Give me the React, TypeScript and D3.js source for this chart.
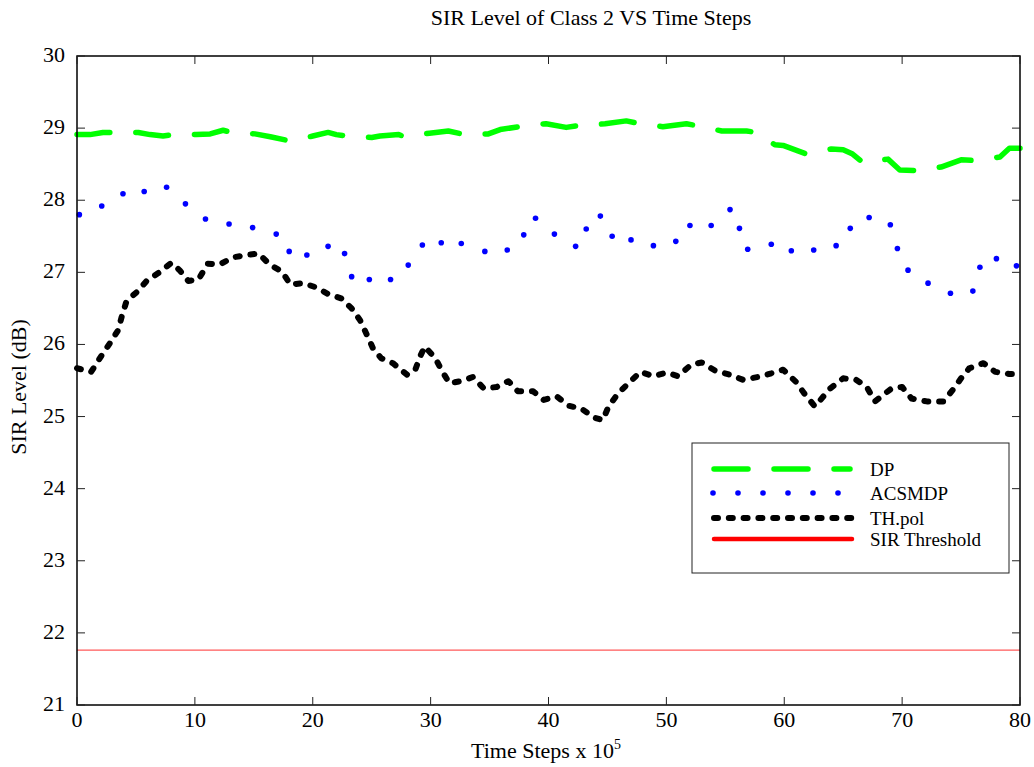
import { useEffect, useRef } from "react";
import * as d3 from "d3";

// DP (green, long dashes)
const dpX = [0, 1.1, 2.2, 3.2, 5.2, 6.2, 7.3, 8.2, 10.1, 11.3, 12.4, 13.1, 15.1, 16.4, 18.1, 20.0, 21.3, 22.0, 22.9, 25.0, 25.7, 27.3, 27.8, 29.9, 31.5, 32.9, 34.9, 35.9, 37.9, 39.8, 41.5, 42.7, 44.8, 46.6, 47.8, 49.7, 51.7, 52.7, 54.7, 56.8, 57.6, 59.2, 59.9, 61.9, 64.0, 65.0, 65.8, 66.7, 68.8, 69.8, 71.4, 73.3, 75.0, 76.3, 78.3, 79.1, 80];
const dpY = [28.91, 28.91, 28.94, 28.94, 28.94, 28.91, 28.89, 28.91, 28.91, 28.92, 28.97, 28.94, 28.92, 28.88, 28.82, 28.89, 28.94, 28.91, 28.89, 28.87, 28.89, 28.91, 28.88, 28.93, 28.96, 28.91, 28.92, 28.98, 29.03, 29.06, 29.01, 29.04, 29.06, 29.1, 29.06, 29.02, 29.06, 29.03, 28.96, 28.96, 28.94, 28.77, 28.76, 28.64, 28.71, 28.7, 28.64, 28.52, 28.57, 28.42, 28.41, 28.46, 28.56, 28.55, 28.6, 28.72, 28.72];

// ACSMDP (blue dots)
const acsX = [0.2, 2.1, 3.9, 5.7, 7.6, 9.2, 10.9, 12.9, 14.9, 16.9, 18.0, 19.5, 21.3, 22.7, 23.3, 24.8, 26.6, 28.1, 29.3, 30.9, 32.6, 34.6, 36.5, 37.9, 38.9, 40.5, 42.3, 43.2, 44.4, 45.4, 47.0, 48.9, 50.8, 52.0, 53.8, 55.4, 56.2, 56.9, 58.9, 60.6, 62.5, 64.4, 65.6, 67.2, 69.0, 69.6, 70.5, 72.2, 74.1, 76.0, 76.6, 78.0, 79.7];
const acsY = [27.8, 27.92, 28.09, 28.12, 28.18, 27.95, 27.74, 27.67, 27.62, 27.53, 27.29, 27.24, 27.36, 27.26, 26.94, 26.9, 26.9, 27.1, 27.38, 27.41, 27.4, 27.29, 27.31, 27.52, 27.75, 27.53, 27.36, 27.6, 27.78, 27.5, 27.45, 27.37, 27.43, 27.65, 27.65, 27.87, 27.61, 27.32, 27.39, 27.3, 27.31, 27.37, 27.61, 27.76, 27.66, 27.33, 27.03, 26.85, 26.71, 26.74, 27.07, 27.19, 27.09];

// TH.pol (black short dashes)
const thX = [0, 1.2, 2.1, 2.8, 3.5, 3.8, 4.2, 5.1, 5.9, 6.9, 8.0, 8.7, 9.45, 10.3, 11.1, 12.1, 13.3, 14.4, 15.4, 16.4, 17.4, 18.1, 19.2, 20.3, 21.3, 22.4, 23.3, 24.0, 24.6, 25.1, 25.8, 26.8, 28.0, 28.7, 29.1, 29.5, 30.4, 30.9, 31.6, 32.8, 33.6, 34.5, 35.6, 36.6, 37.4, 38.7, 39.6, 40.7, 41.7, 42.8, 43.8, 44.6, 45.1, 45.9, 46.9, 47.8, 48.9, 50.0, 51.0, 52.1, 53.0, 54.1, 55.4, 56.5, 57.8, 58.9, 59.9, 61.0, 61.7, 62.6, 63.9, 65.0, 66.1, 67.0, 67.7, 69.1, 70.0, 70.8, 72.1, 73.5, 74.3, 75.0, 75.7, 76.9, 77.9, 79.1, 80];
const thY = [25.67, 25.62, 25.85, 26.02, 26.2, 26.39, 26.6, 26.73, 26.88, 26.99, 27.13, 27.03, 26.88, 26.9, 27.12, 27.11, 27.21, 27.24, 27.26, 27.1, 27.01, 26.83, 26.85, 26.79, 26.7, 26.64, 26.5, 26.34, 26.13, 25.95, 25.81, 25.74, 25.58, 25.65, 25.83, 25.97, 25.81, 25.65, 25.46, 25.5, 25.55, 25.39, 25.41, 25.49, 25.35, 25.35, 25.23, 25.28, 25.15, 25.11, 24.99, 24.95, 25.14, 25.32, 25.48, 25.62, 25.56, 25.61, 25.56, 25.72, 25.75, 25.64, 25.58, 25.51, 25.55, 25.6, 25.65, 25.48, 25.32, 25.14, 25.39, 25.53, 25.51, 25.41, 25.21, 25.39, 25.41, 25.25, 25.21, 25.21, 25.37, 25.53, 25.67, 25.74, 25.62, 25.59, 25.59];

const sirThreshold = 21.76;

const xTicks = [0, 10, 20, 30, 40, 50, 60, 70, 80];
const yTicks = [21, 22, 23, 24, 25, 26, 27, 28, 29, 30];
const legendLabels = ["DP", "ACSMDP", "TH.pol", "SIR Threshold"];

const FONT = "'Liberation Serif', 'Times New Roman', serif";

const App = () => {
  const svgRef = useRef<SVGSVGElement | null>(null);

  useEffect(() => {
    if (!svgRef.current) return;
    const svg = d3.select(svgRef.current);
    svg.selectAll("*").remove();

    const margin = { top: 56, right: 14, bottom: 62, left: 77 };
    const width = 1034;
    const height = 767;
    const innerWidth = width - margin.left - margin.right;
    const innerHeight = height - margin.top - margin.bottom;

    const x = d3.scaleLinear().domain([0, 80]).range([0, innerWidth]);
    const y = d3.scaleLinear().domain([21, 30]).range([innerHeight, 0]);

    const g = svg
      .append("g")
      .attr("transform", `translate(${margin.left},${margin.top})`);

    const line = d3
      .line<[number, number]>()
      .x((d) => x(d[0]))
      .y((d) => y(d[1]));

    // threshold
    g.append("line")
      .attr("x1", 0)
      .attr("x2", innerWidth)
      .attr("y1", y(sirThreshold))
      .attr("y2", y(sirThreshold))
      .attr("stroke", "#ff5a5a")
      .attr("stroke-width", 1.3);

    // DP
    g.append("path")
      .datum(dpX.map((v, i) => [v, dpY[i]] as [number, number]))
      .attr("d", line)
      .attr("fill", "none")
      .attr("stroke", "#00ff00")
      .attr("stroke-width", 5.5)
      .attr("stroke-linecap", "round")
      .attr("stroke-linejoin", "round")
      .attr("stroke-dasharray", "33 26");

    // TH.pol
    g.append("path")
      .datum(thX.map((v, i) => [v, thY[i]] as [number, number]))
      .attr("d", line)
      .attr("fill", "none")
      .attr("stroke", "#000")
      .attr("stroke-width", 6)
      .attr("stroke-linecap", "round")
      .attr("stroke-linejoin", "round")
      .attr("stroke-dasharray", "4 10.8");

    // ACSMDP
    g.append("g")
      .selectAll("circle")
      .data(acsX.map((v, i) => [v, acsY[i]]))
      .enter()
      .append("circle")
      .attr("cx", (d) => x(d[0]))
      .attr("cy", (d) => y(d[1]))
      .attr("r", 2.8)
      .attr("fill", "#0000ff");

    // frame + ticks
    g.append("rect")
      .attr("width", innerWidth)
      .attr("height", innerHeight)
      .attr("fill", "none")
      .attr("stroke", "#000")
      .attr("stroke-width", 1.5);

    const tickLen = 8;
    xTicks.forEach((t) => {
      g.append("line")
        .attr("x1", x(t)).attr("x2", x(t))
        .attr("y1", innerHeight).attr("y2", innerHeight - tickLen)
        .attr("stroke", "#222").attr("stroke-width", 1);
      g.append("line")
        .attr("x1", x(t)).attr("x2", x(t))
        .attr("y1", 0).attr("y2", tickLen)
        .attr("stroke", "#222").attr("stroke-width", 1);
      g.append("text")
        .attr("x", x(t))
        .attr("y", innerHeight + 22)
        .attr("text-anchor", "middle")
        .style("font-family", FONT)
        .style("font-size", "22px")
        .text(t);
    });
    yTicks.forEach((t) => {
      g.append("line")
        .attr("x1", 0).attr("x2", tickLen)
        .attr("y1", y(t)).attr("y2", y(t))
        .attr("stroke", "#222").attr("stroke-width", 1);
      g.append("line")
        .attr("x1", innerWidth).attr("x2", innerWidth - tickLen)
        .attr("y1", y(t)).attr("y2", y(t))
        .attr("stroke", "#222").attr("stroke-width", 1);
      g.append("text")
        .attr("x", -12)
        .attr("y", y(t) + 1)
        .attr("text-anchor", "end")
        .attr("dominant-baseline", "middle")
        .style("font-family", FONT)
        .style("font-size", "22px")
        .text(t);
    });

    // titles
    svg.append("text")
      .attr("x", 591)
      .attr("y", 25)
      .attr("text-anchor", "middle")
      .style("font-family", FONT)
      .style("font-size", "22px")
      .text("SIR Level of Class 2 VS Time Steps");

    const xl = svg.append("text")
      .attr("x", 546)
      .attr("y", 758)
      .attr("text-anchor", "middle")
      .style("font-family", FONT)
      .style("font-size", "22px");
    xl.append("tspan").text("Time Steps x 10");
    xl.append("tspan").attr("dy", -9).style("font-size", "14px").text("5");

    svg.append("text")
      .attr("transform", "translate(26,387) rotate(-90)")
      .attr("text-anchor", "middle")
      .style("font-family", FONT)
      .style("font-size", "22px")
      .text("SIR Level (dB)");

    // legend
    const lg = svg.append("g").attr("transform", "translate(692,443)");
    lg.append("rect")
      .attr("width", 317)
      .attr("height", 130)
      .attr("fill", "#fff")
      .attr("stroke", "#222")
      .attr("stroke-width", 1);
    const rowY = [26, 50, 75, 96];
    const x0 = 20;
    const x1 = 160;
    lg.append("line")
      .attr("x1", x0 + 2).attr("x2", x1 - 2)
      .attr("y1", rowY[0]).attr("y2", rowY[0])
      .attr("stroke", "#00ff00").attr("stroke-width", 5.5)
      .attr("stroke-linecap", "round")
      .attr("stroke-dasharray", "34 26");
    d3.range(x0 + 1, x1, 25).forEach((cx) => {
      lg.append("circle")
        .attr("cx", cx).attr("cy", rowY[1]).attr("r", 2.8)
        .attr("fill", "#0000ff");
    });
    lg.append("line")
      .attr("x1", x0 + 2).attr("x2", x1)
      .attr("y1", rowY[2]).attr("y2", rowY[2])
      .attr("stroke", "#000").attr("stroke-width", 6)
      .attr("stroke-linecap", "round")
      .attr("stroke-dasharray", "4 10.8");
    lg.append("line")
      .attr("x1", x0 + 2).attr("x2", x1)
      .attr("y1", rowY[3]).attr("y2", rowY[3])
      .attr("stroke", "#ff0000").attr("stroke-width", 4.5)
      .attr("stroke-linecap", "round");
    legendLabels.forEach((l, i) => {
      lg.append("text")
        .attr("x", 178)
        .attr("y", rowY[i] + 7)
        .style("font-family", FONT)
        .style("font-size", "19px")
        .text(l);
    });
  }, []);

  return (
    <svg
      ref={svgRef}
      width={1034}
      height={767}
      style={{ position: "absolute", left: 0, top: 0, background: "#fff" }}
    ></svg>
  );
};

export default App;
